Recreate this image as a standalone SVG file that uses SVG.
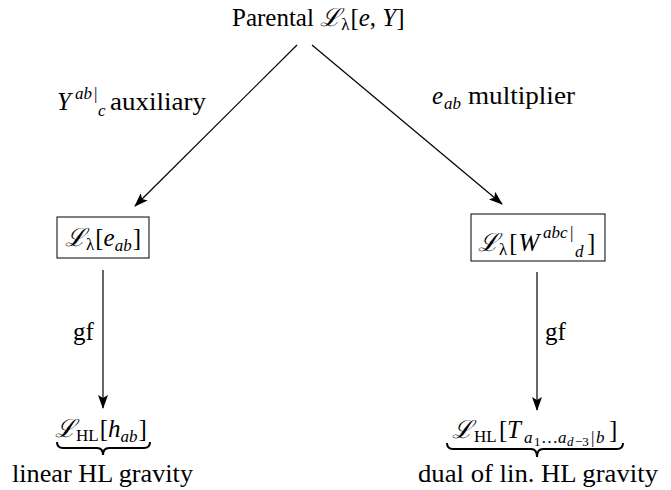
<svg xmlns="http://www.w3.org/2000/svg" width="671" height="490" viewBox="0 0 671 490">
<style>
text{font-family:"Liberation Serif","DejaVu Serif",serif;font-size:25px;fill:#000}
.i{font-style:italic}
.s{font-size:17px}
.ss{font-size:13px}
.box{fill:none;stroke:#000;stroke-width:1}
.c{fill:none;stroke:#000;stroke-width:1.2}
.br{fill:none;stroke:#000;stroke-width:2}
</style>
<defs>
<marker id="ah" markerWidth="14" markerHeight="10" refX="13" refY="5" orient="auto" markerUnits="userSpaceOnUse">
<path d="M0,0 L14,5 L0,10 L3,5 Z" fill="#000"/>
</marker>
</defs>
<g id="connectors">
<line class="c" x1="297" y1="45" x2="135" y2="206" marker-end="url(#ah)"/>
<line class="c" x1="312" y1="45" x2="502" y2="204" marker-end="url(#ah)"/>
<line class="c" x1="103" y1="270" x2="103" y2="408" marker-end="url(#ah)"/>
<line class="c" x1="537" y1="272" x2="537" y2="410" marker-end="url(#ah)"/>
<text y="110"><tspan class="i" x="57">Y</tspan><tspan class="i s" x="75" y="99">ab</tspan><tspan class="s" x="94" y="99">|</tspan><tspan class="i s" x="98" y="116">c</tspan><tspan x="110" y="110" textLength="96" lengthAdjust="spacingAndGlyphs">auxiliary</tspan></text>
<text y="104"><tspan class="i" x="432">e</tspan><tspan class="i s" x="444" y="109">ab</tspan><tspan x="468" y="104" textLength="107" lengthAdjust="spacingAndGlyphs">multiplier</tspan></text>
<text x="73" y="340">gf</text>
<text x="545" y="340">gf</text>
</g>
<g id="parental">
<text x="232" y="26">Parental <tspan class="i">ℒ</tspan><tspan class="s" y="30">λ</tspan><tspan y="26" dx="1">[</tspan><tspan class="i">e</tspan>, <tspan class="i">Y</tspan>]</text>
</g>
<g id="lam-e">
<rect class="box" x="57" y="217" width="92" height="41"/>
<text x="65" y="246"><tspan class="i">ℒ</tspan><tspan class="s" y="250">λ</tspan><tspan y="246" dx="1">[</tspan><tspan class="i">e</tspan><tspan class="i s" y="251">ab</tspan><tspan y="246" dx="1">]</tspan></text>
</g>
<g id="lam-W">
<rect class="box" x="471" y="214" width="134" height="47"/>
<text y="251"><tspan class="i" x="478">ℒ</tspan><tspan class="s" y="255">λ</tspan><tspan y="251" dx="2">[</tspan><tspan class="i" dx="1">W</tspan><tspan class="i s" x="543" y="238">abc</tspan><tspan class="s" x="570" y="238">|</tspan><tspan class="i s" x="575" y="257">d</tspan><tspan x="587" y="251">]</tspan></text>
</g>
<g id="hl-h">
<text x="55" y="437"><tspan class="i">ℒ</tspan><tspan class="s" y="441">HL</tspan><tspan y="437" dx="1">[</tspan><tspan class="i">h</tspan><tspan class="i s" y="442">ab</tspan><tspan y="437" dx="1">]</tspan></text>
<path class="br" d="M57,442 Q57,448 63,448 L97,448 Q103,448 103,455 Q103,448 109,448 L144,448 Q150,448 150,442"/>
<text x="12" y="482" textLength="181" lengthAdjust="spacingAndGlyphs">linear HL gravity</text>
</g>
<g id="hl-T">
<text y="438"><tspan class="i" x="452">ℒ</tspan><tspan class="s" y="442" dx="1">HL</tspan><tspan y="438" x="499">[</tspan><tspan class="i" x="507">T</tspan><tspan class="i s" x="524" y="443">a</tspan><tspan class="ss" x="534" y="446">1</tspan><tspan class="s" x="541" y="443">…</tspan><tspan class="i s" x="558">a</tspan><tspan class="i ss" x="567" y="446">d</tspan><tspan class="ss" x="575">−3</tspan><tspan class="s" x="591" y="443">|</tspan><tspan class="i s" x="596">b</tspan><tspan y="438" x="609">]</tspan></text>
<path class="br" d="M447,443 Q447,449 453,449 L531,449 Q537,449 537,457 Q537,449 543,449 L617,449 Q623,449 623,443"/>
<text x="418" y="482" textLength="240" lengthAdjust="spacingAndGlyphs">dual of lin. HL gravity</text>
</g>
</svg>
